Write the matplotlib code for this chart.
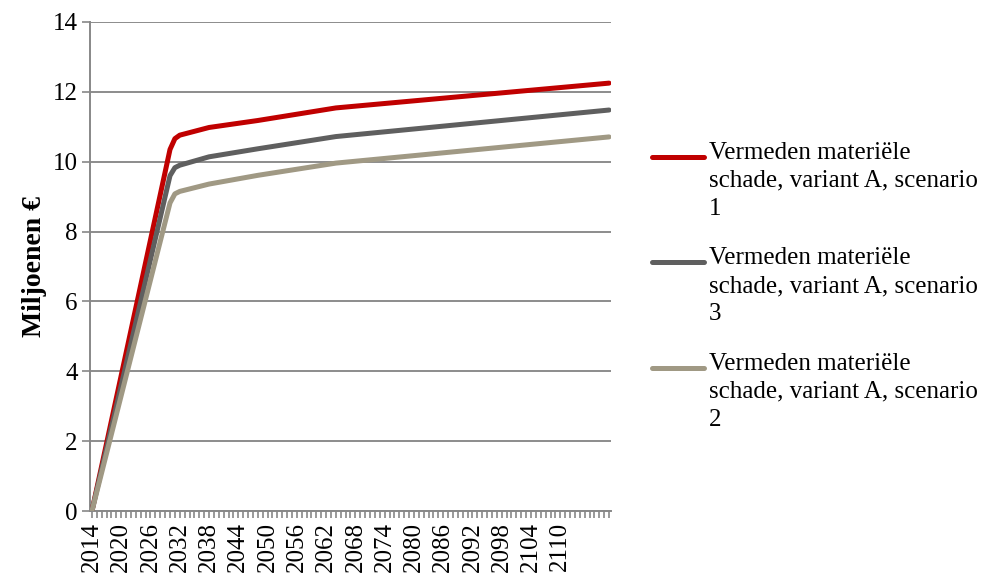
import matplotlib
matplotlib.use("Agg")
import matplotlib.pyplot as plt
from matplotlib.lines import Line2D

# jaartallen en waarden (miljoenen euro)
jaren = [2014, 2030, 2031, 2032, 2038, 2048, 2064, 2120]
scenario1 = [0, 10.35, 10.66, 10.76, 10.98, 11.18, 11.54, 12.25]
scenario3 = [0, 9.60, 9.83, 9.90, 10.14, 10.37, 10.72, 11.48]
scenario2 = [0, 8.82, 9.08, 9.15, 9.36, 9.61, 9.96, 10.71]

labels = ["Vermeden materiële\nschade, variant A, scenario\n1",
          "Vermeden materiële\nschade, variant A, scenario\n3",
          "Vermeden materiële\nschade, variant A, scenario\n2"]
kleuren = ["#C00000", "#5F5F5F", "#A09984"]

plt.rcParams['font.family'] = ['Liberation Serif', 'DejaVu Serif']

fig = plt.figure(figsize=(9.88, 5.77), dpi=100)
ax = fig.add_axes([90/988, 1 - 511/577, 521/988, 489/577])

for reeks, kleur in zip([scenario1, scenario3, scenario2], kleuren):
    ax.plot(jaren, reeks, color=kleur, lw=3.6, solid_capstyle='round',
            solid_joinstyle='round', zorder=3)

ax.set_xlim(2013.6, 2120.4)
ax.set_ylim(0, 14)
ax.set_yticks(range(0, 15, 2))
ax.set_xticks(range(2014, 2111, 6))
ax.set_xticks(range(2014, 2121), minor=True)
ax.tick_params(axis='x', which='both', length=5, width=1.2, color='#888888',
               labelrotation=90, labelsize=18, pad=3)
ax.tick_params(axis='y', length=6, width=1.2, color='#888888', labelsize=18, pad=3)
ax.grid(axis='y', color='#8C8C8C', lw=1.4, zorder=0)

for kant in ['top', 'right']:
    ax.spines[kant].set_visible(False)
for kant in ['left', 'bottom']:
    ax.spines[kant].set_color('#888888')
    ax.spines[kant].set_linewidth(1.4)

ax.set_ylabel('Miljoenen €', fontsize=20, fontweight='bold', labelpad=4)

# legenda rechts naast de grafiek
for i, (label, kleur) in enumerate(zip(labels, kleuren)):
    y = 1 - (157 + i * 105.5) / 577
    fig.add_artist(Line2D([652/988, 704/988], [y, y], color=kleur, lw=3.6,
                          solid_capstyle='round', transform=fig.transFigure))
    fig.text(709/988, y + 15/577, label, fontsize=18, va='top', ha='left',
             linespacing=1.35)

fig.savefig('out.png', dpi=100)
